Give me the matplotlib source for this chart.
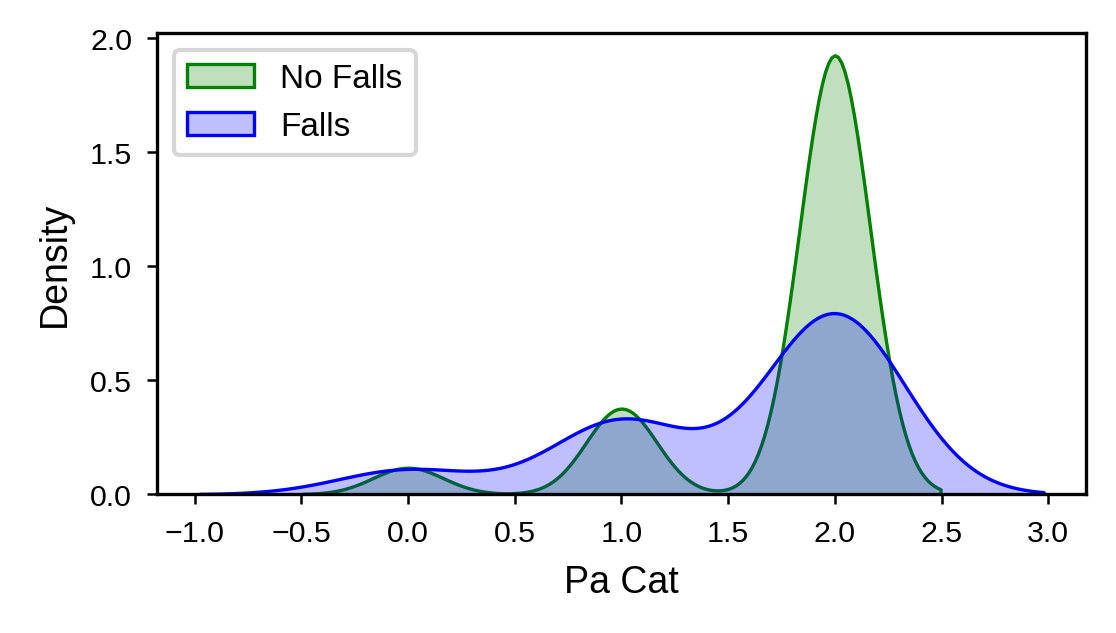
import numpy as np
import pandas as pd
import matplotlib
matplotlib.use("Agg")
import matplotlib.pyplot as plt
import seaborn as sns

# Pa Cat category values and the number of people in each, per group
pa_cat_levels = [0, 1, 2]
no_falls_counts = [17, 55, 282]
falls_counts = [3, 9, 22]

group_names = ["No Falls", "Falls"]
group_colors = ["green", "blue"]

plt.rcParams['font.family'] = ['Liberation Sans', 'DejaVu Sans']

no_falls = np.repeat(pa_cat_levels, no_falls_counts)
falls = np.repeat(pa_cat_levels, falls_counts)

fig = plt.figure(figsize=(3.72, 2.113), dpi=300)
ax = fig.add_axes([0.1407, 0.219, 0.8323, 0.727])

for vals, name, col in zip([no_falls, falls], group_names, group_colors):
    sns.kdeplot(x=vals.astype(float), ax=ax, fill=True, color=col,
                label=name, linewidth=0.8, alpha=0.25)

ax.set_xticks(np.arange(-1.0, 3.01, 0.5))
ax.set_yticks(np.arange(0.0, 2.01, 0.5))
ax.tick_params(labelsize=7.3, width=0.6, length=2.5)
for s in ax.spines.values():
    s.set_linewidth(0.8)
ax.set_xlabel("Pa Cat", fontsize=9)
ax.set_ylabel("Density", fontsize=9)
ax.legend(loc="upper left", fontsize=8)

fig.savefig("out.png", dpi=300)
